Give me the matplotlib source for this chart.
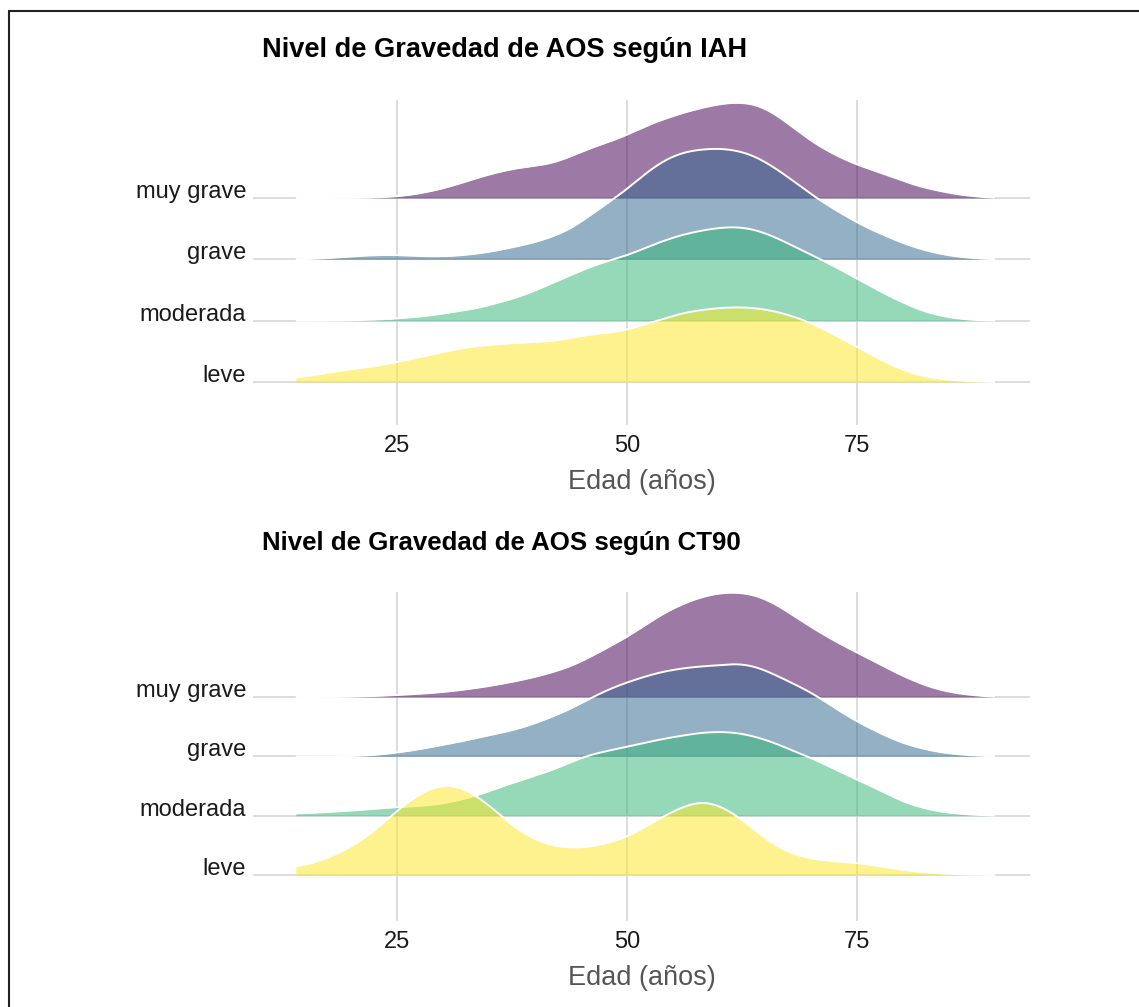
import numpy as np
import matplotlib.pyplot as plt
from matplotlib.patches import Rectangle

plt.rcParams['font.family'] = ['Liberation Sans', 'DejaVu Sans']

niveles = ['leve', 'moderada', 'grave', 'muy grave']
colores = ['#FDE725', '#35B779', '#31688E', '#440154']
titulos = ['Nivel de Gravedad de AOS según IAH', 'Nivel de Gravedad de AOS según CT90']
xlabel = 'Edad (años)'
ticks_x = [25, 50, 75]

# eje de edad donde se leyeron las alturas de cada cresta
edad = [14, 16, 18, 20, 22, 24, 26, 28, 30, 32, 34, 36, 38, 40, 42, 44, 46, 48, 50, 52,
        54, 56, 58, 60, 62, 64, 66, 68, 70, 72, 74, 76, 78, 80, 82, 84, 86, 88, 90]

# alturas de densidad (escala relativa, 100 ~ 1.6 filas)
iah_leve = [4, 7, 10, 13, 15, 18, 22, 26, 30, 34, 36, 38, 39, 40, 41, 44, 48, 49, 52, 58,
            63, 69, 72, 74, 75, 74, 71, 66, 59, 50, 40, 30, 20, 12, 6, 3, 1.5, 0.5, 0]
iah_moderada = [0, 0, 0, 0.3, 1, 1.5, 3, 4.5, 7, 10, 13, 18, 23, 30, 38, 46, 54, 60, 65, 73,
                80, 86, 90, 93, 94, 91, 84, 75, 66, 57, 47, 37, 27, 18, 10, 5, 2, 0.5, 0]
iah_grave = [0, 0.5, 1.5, 3, 4, 4.5, 4, 3, 3, 4, 6, 9, 13, 17, 23, 31, 44, 57, 70, 86,
             99, 107, 110, 111, 109, 103, 92, 79, 65, 53, 42, 32, 24, 16, 10, 5.5, 2.5, 1, 0]
iah_muy_grave = [0, 0, 0, 0, 0.3, 1, 2.5, 5.5, 9.5, 15, 21, 26, 30, 32, 35, 42, 50, 56, 63, 72,
                 79, 85, 90, 94, 96, 94, 85, 71, 57, 46, 37, 30, 24, 17, 11, 7, 3.5, 1.5, 0]

ct90_leve = [8, 12, 19, 28, 40, 56, 72, 84, 91, 88, 77, 62, 46, 35, 29, 27, 28, 32, 38, 48,
             59, 68, 74, 70, 59, 44, 30, 21, 16, 14, 13, 11, 8, 5, 3, 1.5, 0.7, 0.3, 0]
ct90_moderada = [2, 3, 4, 5, 6.5, 8, 9, 10, 12, 16, 21, 28, 34, 40, 46, 54, 61, 65, 69, 73,
                 77, 80, 83, 84, 83, 79, 73, 65, 58, 49, 40, 32, 23, 14, 8, 4, 2, 0.7, 0]
ct90_grave = [0, 0, 0, 0.3, 1, 2.5, 5, 8, 11.5, 15, 19, 23, 27, 33, 40, 48, 58, 67, 74, 80,
              85, 88, 90, 91, 93, 90, 82, 73, 64, 52, 40, 30, 21, 13, 8, 4, 2, 0.7, 0]
ct90_muy_grave = [0, 0, 0, 0.3, 0.8, 1.5, 2.5, 3.5, 5, 7, 9.5, 12.5, 16, 20, 25, 31, 40, 50, 60, 72,
                  84, 93, 100, 104, 105, 102, 94, 82, 70, 59, 49, 40, 30, 21, 13, 7, 3.5, 1.5, 0]

paneles = [
    [iah_leve, iah_moderada, iah_grave, iah_muy_grave],
    [ct90_leve, ct90_moderada, ct90_grave, ct90_muy_grave],
]

W, H = 1139, 1007
# posiciones en pixeles: (top, bottom) del panel y separacion entre filas
cajas = [(100, 425, 382, 61.33), (592, 921, 875, 59.33)]
titulo_y = [57, 550]
titulo_size = [19.6, 18.6]
x_izq, x_der = 253, 1030
xlim = (9.35, 93.8)


def suavizar(x, h, sigma=1.0):
    xf = np.linspace(x[0], x[-1], 800)
    hf = np.interp(xf, x, h)
    dx = xf[1] - xf[0]
    n = int(4 * sigma / dx)
    k = np.exp(-0.5 * (np.arange(-n, n + 1) * dx / sigma) ** 2)
    k /= k.sum()
    pad = np.concatenate([np.full(n, hf[0]), hf, np.full(n, hf[-1])])
    return xf, np.convolve(pad, k, mode='valid')


fig = plt.figure(figsize=(W / 100, H / 100), dpi=100)

for p, series in enumerate(paneles):
    top, bot, base_leve, paso = cajas[p]
    ax = fig.add_axes([x_izq / W, 1 - bot / H, (x_der - x_izq) / W, (bot - top) / H])
    ax.set_xlim(*xlim)
    ax.set_ylim(-(bot - base_leve) / paso, (base_leve - top) / paso)

    # de arriba hacia abajo, para que las crestas inferiores queden encima
    for i in range(len(niveles) - 1, -1, -1):
        xf, hf = suavizar(edad, series[i])
        y = i + hf / paso
        z = 10 + (len(niveles) - i) * 2
        ax.fill_between(xf, i, y, color=colores[i], alpha=0.52, lw=0, zorder=z)
        ax.plot(xf, y, color='white', lw=1.4, zorder=z + 1, solid_capstyle='butt')

    ax.set_xticks(ticks_x)
    ax.set_yticks(range(len(niveles)))
    ax.set_yticklabels(niveles)
    ax.grid(True, color='#dadada', lw=1.3, zorder=0)
    ax.set_axisbelow(True)
    for s in ax.spines.values():
        s.set_visible(False)
    ax.tick_params(length=0, labelsize=17, colors='#1a1a1a')
    ax.tick_params(axis='x', pad=7)
    ax.tick_params(axis='y', pad=5)
    for lab in ax.get_yticklabels():
        lab.set_va('baseline')
    ax.set_xlabel(xlabel, fontsize=19.5, color='#555555', labelpad=9)

    fig.text(262 / W, 1 - titulo_y[p] / H, titulos[p], fontsize=titulo_size[p],
             fontweight='bold', color='black', va='baseline', ha='left')

fig.add_artist(Rectangle((9 / W, -0.05), 1.2, 1 - 11 / H + 0.05, transform=fig.transFigure,
                         fill=False, ec='#222222', lw=1.5))

fig.savefig('out.png', dpi=100)
